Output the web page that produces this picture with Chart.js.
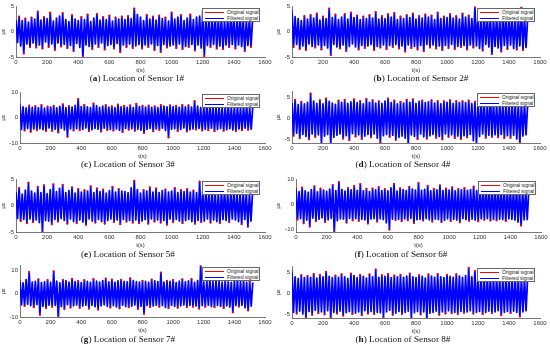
<!DOCTYPE html>
<html>
<head>
<meta charset="utf-8">
<script src="https://cdn.jsdelivr.net/npm/chart.js@4.4.1/dist/chart.umd.min.js"></script>
<style>
  body { margin: 0; background: #fff; width: 550px; height: 352px; position: relative; overflow: hidden; }
  canvas { position: absolute; }
  .cap { position: absolute; font-family: "Liberation Serif", serif; font-size: 9.2px; line-height: 10px; color: #111; white-space: nowrap; transform: translateX(-50%); }
  .leg { position: absolute; width: 58px; height: 14px; box-sizing: border-box; border: 1px solid #666; background: #fff;
         font-family: "Liberation Sans", Arial, sans-serif; font-size: 5px; line-height: 6px; color: #222; }
  .leg div { position: absolute; left: 24px; white-space: nowrap; }
  .leg span { position: absolute; left: 2px; width: 19px; height: 0; border-top: 1.5px solid; }
</style>
</head>
<body>
<script>
// sample times (s)
const timeS = [
  0,10,20,30,40,50,60,70,80,90,
  100,110,120,130,140,150,160,170,180,190,
  200,210,220,230,240,250,260,270,280,290,
  300,310,320,330,340,350,360,370,380,390,
  400,410,420,430,440,450,460,470,480,490,
  500,510,520,530,540,550,560,570,580,590,
  600,610,620,630,640,650,660,670,680,690,
  700,710,720,730,740,750,760,770,780,790,
  800,810,820,830,840,850,860,870,880,890,
  900,910,920,930,940,950,960,970,980,990,
  1000,1010,1020,1030,1040,1050,1060,1070,1080,1090,
  1100,1110,1120,1130,1140,1150,1160,1170,1180,1190,
  1200,1210,1220,1230,1240,1250,1260,1270,1280,1290,
  1300,1310,1320,1330,1340,1350,1360,1370,1380,1390,
  1400,1410,1420,1430,1440,1450,1460,1470,1480,1490,
  1500,1510,1520
];

// strain (µε); original and filtered coincide except at the peak tips
const sensor1 = [
  2.4,-2.1,3.0,-2.8,2.2,-4.3,2.6,-2.4,1.9,-3.0,
  2.8,-2.2,2.5,-3.1,4.0,-2.6,2.3,-3.3,2.9,-2.0,
  2.6,-3.0,3.8,-2.4,2.1,-3.6,2.7,-2.2,3.1,-2.9,
  3.7,-2.5,2.4,-3.2,2.0,-2.7,3.3,-3.8,2.5,-2.3,
  2.2,-3.1,2.9,-5.0,2.4,-2.6,3.4,-2.9,2.0,-3.4,
  2.7,-2.4,3.5,-3.0,2.3,-2.2,2.9,-3.5,2.4,-2.7,
  3.2,-2.5,2.1,-3.3,2.8,-2.3,2.5,-4.0,3.0,-2.6,
  2.4,-3.0,3.1,-2.4,2.6,-3.2,4.6,-2.8,3.4,-2.5,
  2.9,-3.3,2.2,-2.6,3.3,-3.0,2.5,-2.4,3.0,-3.6,
  2.3,-2.7,3.2,-4.0,2.6,-2.5,2.8,-3.1,2.1,-2.8,
  3.8,-2.6,2.5,-3.2,2.9,-2.4,3.3,-3.4,2.2,-2.9,
  2.7,-3.0,3.4,-2.5,2.4,-3.7,2.9,-2.6,3.1,-3.2,
  4.0,-4.8,2.6,-2.7,3.0,-3.0,2.3,-2.5,3.2,-3.3,
  2.5,-2.8,3.1,-3.4,2.2,-2.6,2.8,-3.0,3.6,-2.5,
  2.9,-3.3,2.4,-2.6,3.2,-2.9,2.6,-3.8,2.3,-2.7,
  2.8,-3.0,2.5
];
const sensor2 = [
  4.2,-3.0,3.0,-2.5,2.6,-3.4,2.2,-2.8,3.1,-3.6,
  2.5,-2.4,3.3,-2.9,2.7,-3.1,3.6,-2.6,2.3,-3.5,
  3.0,-2.7,2.6,-3.2,4.6,-4.6,2.8,-2.5,3.4,-3.0,
  2.4,-3.3,2.9,-2.6,3.5,-3.8,2.5,-2.9,3.8,-2.4,
  2.8,-3.0,3.2,-3.5,2.4,-2.7,3.0,-3.2,2.6,-2.8,
  3.3,-2.5,2.7,-3.6,3.9,-2.9,2.5,-3.1,3.1,-2.6,
  2.6,-3.4,3.5,-2.7,2.9,-3.0,3.7,-2.5,2.4,-3.3,
  3.0,-2.8,2.6,-3.9,3.3,-2.6,2.8,-3.2,3.6,-2.9,
  2.5,-3.5,3.1,-2.7,2.7,-3.8,3.4,-2.5,2.9,-3.1,
  3.2,-2.6,2.4,-3.3,3.8,-2.8,2.6,-3.6,3.0,-2.7,
  2.8,-3.2,3.5,-2.5,2.7,-3.4,3.1,-2.9,2.5,-3.0,
  3.6,-2.7,2.9,-3.5,3.2,-2.6,2.6,-3.1,4.9,-2.8,
  3.0,-3.3,2.7,-3.7,3.4,-2.5,2.8,-3.0,3.3,-4.4,
  2.6,-2.9,3.1,-3.2,2.5,-3.9,3.6,-2.7,2.9,-3.4,
  3.2,-2.6,2.7,-3.3,3.0,-3.5,2.5,-2.8,4.8,-3.6,
  2.9,-3.1,2.6
];
const sensor3 = [
  5.2,-4.6,4.3,-5.0,3.9,-4.2,4.8,-5.5,4.1,-4.4,
  4.6,-4.9,4.0,-4.3,5.0,-4.7,3.8,-5.2,4.4,-4.0,
  4.2,-5.1,4.7,-4.5,3.9,-5.8,4.5,-4.1,5.3,-4.8,
  4.0,-7.5,4.6,-4.4,4.2,-5.0,4.9,-4.3,7.4,-4.9,
  4.4,-4.6,5.1,-4.0,4.3,-5.3,4.0,-4.7,5.6,-4.2,
  4.8,-4.5,4.1,-5.4,4.6,-4.1,5.0,-4.8,4.2,-4.6,
  4.5,-5.0,4.0,-4.4,5.2,-4.9,4.3,-5.6,4.7,-4.2,
  4.1,-4.7,4.9,-4.3,4.0,-5.1,5.5,-4.5,4.4,-4.9,
  4.7,-6.0,4.2,-4.6,4.8,-4.2,4.1,-5.3,4.5,-4.4,
  4.0,-4.8,5.0,-4.1,4.6,-5.0,4.3,-7.8,4.9,-4.5,
  4.4,-4.3,4.7,-5.2,4.1,-4.6,5.1,-4.0,4.3,-5.4,
  4.9,-4.7,4.2,-4.4,6.6,-4.6,4.6,-4.2,4.0,-5.0,
  4.3,-4.5,5.6,-4.9,4.4,-4.1,4.8,-5.3,4.2,-4.6,
  4.7,-4.2,4.0,-5.1,4.5,-4.7,5.0,-4.3,4.1,-4.8,
  4.5,-5.2,4.8,-4.4,4.2,-4.9,4.6,-4.1,5.2,-4.7,
  4.0,-4.5,4.3
];
const sensor4 = [
  3.8,-4.2,4.5,-3.6,3.3,-4.8,4.0,-3.9,3.5,-4.4,
  3.9,-5.1,6.0,-3.8,4.2,-4.5,3.6,-4.0,4.4,-6.1,
  3.5,-4.3,4.8,-3.9,4.1,-6.2,3.7,-4.6,3.4,-4.1,
  4.3,-3.8,3.9,-4.9,4.5,-4.2,3.6,-5.3,4.0,-3.7,
  4.6,-4.4,3.8,-4.0,4.2,-5.0,3.5,-4.3,4.7,-3.9,
  3.9,-4.6,4.4,-3.8,3.7,-4.8,4.1,-5.9,3.6,-4.2,
  4.2,-3.9,4.8,-4.5,3.8,-4.1,4.3,-5.2,3.5,-4.6,
  4.0,-4.3,3.7,-4.8,4.5,-6.3,3.9,-4.0,4.6,-4.4,
  3.6,-5.0,4.1,-3.8,4.3,-4.5,3.8,-4.9,4.0,-4.2,
  4.4,-3.9,3.7,-4.7,4.2,-4.4,3.5,-5.1,4.1,-3.8,
  3.9,-4.5,4.4,-4.0,3.6,-4.8,4.2,-4.3,3.8,-5.0,
  4.1,-4.2,3.8,-4.6,4.3,-3.9,3.6,-5.4,4.0,-6.2,
  3.7,-4.4,4.2,-3.8,3.9,-4.7,3.5,-4.1,5.5,-4.5,
  3.8,-4.0,3.4,-4.6,4.0,-3.9,3.6,-4.8,3.9,-4.2,
  3.5,-4.7,3.9,-4.1,3.7,-5.0,3.4,-6.0,3.8,-4.3,
  3.6,-4.0,3.3
];
const sensor5 = [
  2.6,-2.4,3.4,-2.9,2.2,-2.6,3.0,-3.3,4.4,-2.5,
  2.8,-3.1,2.4,-2.7,3.6,-3.2,2.5,-5.0,3.9,-2.8,
  2.3,-2.9,3.1,-3.5,4.1,-2.6,2.7,-3.0,3.3,-2.4,
  4.0,-2.8,2.5,-3.4,2.9,-2.5,3.5,-3.0,2.4,-3.3,
  3.2,-2.7,2.6,-3.1,3.0,-3.6,2.8,-2.5,3.7,-2.9,
  2.5,-3.2,3.3,-2.6,2.7,-3.0,3.1,-3.4,2.4,-2.8,
  2.9,-2.5,3.6,-3.1,2.6,-2.7,3.2,-3.5,2.8,-2.6,
  2.7,-3.0,2.5,-2.8,3.4,-3.2,4.8,-2.7,3.1,-3.3,
  2.4,-2.9,3.0,-2.6,2.8,-3.4,3.5,-2.5,2.6,-3.0,
  3.3,-2.7,2.5,-3.2,2.9,-2.8,3.1,-3.6,2.6,-2.5,
  2.8,-3.1,3.4,-2.6,2.5,-2.9,3.0,-3.3,2.7,-2.8,
  3.2,-2.6,2.6,-3.0,2.9,-3.4,2.5,-2.8,4.6,-3.1,
  2.7,-2.9,3.1,-2.5,2.6,-3.2,2.9,-2.7,2.4,-3.0,
  2.5,-3.3,2.8,-2.6,3.0,-2.8,2.6,-3.1,2.7,-2.5,
  2.9,-2.7,2.4,-3.0,2.6,-3.5,2.8,-2.6,2.5,-4.0,
  2.4,-2.9,2.6
];
const sensor6 = [
  6.5,-6.0,5.2,-5.6,6.8,-7.5,5.5,-6.2,4.9,-8.8,
  6.0,-5.4,7.3,-6.6,5.1,-5.9,6.4,-5.3,5.8,-7.0,
  5.3,-6.1,6.2,-5.5,7.8,-11.0,5.6,-6.4,9.0,-5.7,
  6.1,-5.8,5.4,-7.2,6.6,-5.5,5.9,-6.3,7.4,-5.6,
  5.7,-6.5,8.2,-5.9,5.5,-6.1,6.3,-7.6,5.2,-5.8,
  6.4,-5.6,5.9,-6.8,7.0,-5.7,5.6,-6.0,6.2,-7.3,
  5.5,-10.0,6.7,-5.8,8.3,-6.2,5.4,-5.9,6.5,-6.6,
  6.0,-5.7,5.6,-6.3,7.1,-5.5,6.2,-7.4,5.8,-6.0,
  8.6,-5.9,5.7,-6.4,6.1,-5.6,7.5,-6.1,5.5,-6.8,
  6.3,-5.8,5.9,-6.0,7.7,-7.0,5.6,-6.3,6.4,-5.7,
  5.8,-6.6,6.9,-5.9,5.5,-6.2,6.2,-7.1,5.9,-5.6,
  6.6,-6.0,5.7,-6.5,6.0,-5.8,7.2,-6.2,5.6,-6.7,
  6.1,-5.7,5.8,-6.1,6.5,-5.6,5.9,-6.4,6.3,-5.9,
  5.7,-6.3,6.4,-5.8,5.6,-6.0,6.1,-6.6,5.8,-5.7,
  6.0,-5.9,5.5,-6.2,6.2,-7.0,5.7,-8.4,5.9,-6.1,
  5.6,-6.0,5.8
];
const sensor7 = [
  5.5,-4.8,4.6,-5.3,6.0,-4.5,9.2,-5.1,4.9,-5.8,
  5.2,-4.6,6.1,-9.0,4.7,-5.4,5.0,-6.2,5.8,-4.9,
  4.8,-5.6,9.5,-5.0,5.3,-10.2,4.6,-5.5,5.9,-6.6,
  5.6,-4.7,4.9,-5.9,6.3,-5.2,5.1,-4.8,5.4,-6.0,
  4.7,-5.3,5.8,-4.9,5.2,-6.4,4.8,-5.0,6.2,-5.6,
  5.3,-6.8,4.9,-5.2,5.6,-4.7,6.4,-5.4,5.0,-5.9,
  6.0,-5.1,4.8,-5.7,5.4,-6.3,5.9,-4.9,5.2,-5.5,
  5.0,-5.8,6.5,-5.3,5.6,-4.8,5.1,-6.6,4.9,-5.4,
  5.5,-8.6,5.2,-5.0,4.8,-5.7,6.0,-5.3,5.4,-4.9,
  5.1,-5.6,9.0,-5.1,4.9,-5.9,5.5,-6.2,5.2,-5.0,
  5.8,-5.4,4.7,-6.0,5.3,-5.2,6.1,-4.8,5.0,-5.7,
  5.4,-5.0,6.2,-5.6,4.8,-5.3,5.6,-6.4,12.0,-5.1,
  5.0,-5.6,5.4,-4.9,6.3,-5.5,5.1,-5.8,5.7,-5.0,
  5.3,-5.4,4.9,-6.1,5.6,-5.2,5.0,-5.7,4.8,-8.0,
  5.5,-5.1,6.0,-5.5,5.2,-4.9,5.7,-6.0,4.9,-7.2,
  5.2,-5.3,4.8
];
const sensor8 = [
  5.3,-4.6,4.0,-4.9,3.6,-4.3,4.4,-5.0,3.8,-6.0,
  4.2,-4.4,3.9,-5.2,4.7,-4.1,3.7,-4.8,4.5,-4.5,
  4.0,-5.1,5.2,-4.2,4.1,-6.0,3.8,-4.6,4.3,-4.9,
  3.9,-4.3,4.6,-5.4,4.0,-4.7,3.6,-4.4,4.8,-5.0,
  4.3,-4.8,3.8,-4.5,4.5,-5.3,4.1,-4.2,3.7,-4.9,
  4.6,-4.4,4.0,-5.0,5.8,-4.6,3.9,-4.7,4.4,-6.0,
  4.1,-4.5,4.7,-4.1,3.8,-5.2,4.3,-4.8,4.0,-4.4,
  4.5,-5.0,3.9,-4.6,4.2,-4.3,4.8,-6.1,4.0,-4.7,
  3.8,-4.4,4.4,-5.1,4.1,-4.5,3.7,-6.2,4.6,-4.8,
  4.2,-4.6,3.9,-4.3,4.7,-5.2,4.0,-4.5,3.8,-4.9,
  4.5,-4.2,4.1,-4.8,3.9,-4.6,4.6,-5.0,4.2,-4.4,
  3.9,-4.7,4.3,-4.5,6.2,-4.2,4.0,-4.9,5.4,-4.6,
  4.1,-4.4,3.8,-5.0,4.2,-4.6,3.9,-4.3,4.4,-4.8,
  3.7,-4.5,4.0,-4.2,3.8,-5.3,3.6,-4.6,4.1,-4.4,
  3.9,-4.8,3.6,-4.3,4.0,-4.6,3.8,-5.6,3.7,-4.5,
  3.6,-4.2,3.8
];

const xTicks = [0, 200, 400, 600, 800, 1000, 1200, 1400, 1600];
const seriesNames = ['Original signal', 'Filtered signal'];
const captionLetters = ['a', 'b', 'c', 'd', 'e', 'f', 'g', 'h'];
const yLimits = [[-5, 5], [-5, 5], [-10, 10], [-6, 6.5], [-5, 5], [-11, 10], [-10, 12], [-6, 6.5]];
const yTickSets = [[-5, 0, 5], [-5, 0, 5], [-10, 0, 10], [-5, 0, 5], [-5, 0, 5], [-10, 0, 10], [-10, 0, 10], [-5, 0, 5]];
const sensors = [sensor1, sensor2, sensor3, sensor4, sensor5, sensor6, sensor7, sensor8];

// panel frames: column x, axis left/right, plot top/bottom, caption centre
const frames = [
  { col: 0,   L: 16,  R: 265, T: 5,   B: 57,  cx: 137, cy: 78 },
  { col: 275, L: 292, R: 540, T: 5,   B: 57,  cx: 421, cy: 78 },
  { col: 0,   L: 20,  R: 265, T: 91,  B: 143, cx: 128, cy: 164 },
  { col: 275, L: 292, R: 540, T: 90,  B: 143, cx: 403, cy: 164 },
  { col: 0,   L: 16,  R: 265, T: 178, B: 232, cx: 128, cy: 254 },
  { col: 275, L: 296, R: 541, T: 178, B: 232, cx: 401, cy: 254 },
  { col: 0,   L: 20,  R: 265, T: 264, B: 317, cx: 128, cy: 339 },
  { col: 275, L: 292, R: 540, T: 265, B: 318, cx: 403, cy: 339 }
];

const tickFont = { family: '"Liberation Sans", Arial, sans-serif', size: 6 };

// red tip only where a peak stands out from its same-sign neighbours
function tipRadius(vals) {
  return ctx => {
    const k = ctx.dataIndex, v = vals[k];
    const a = vals[k - 2], b = vals[k + 2];
    const out = (a === undefined || Math.abs(v) >= Math.abs(a)) && (b === undefined || Math.abs(v) >= Math.abs(b));
    return out ? 1.1 : 0;
  };
}

frames.forEach((f, i) => {
  const cv = document.createElement('canvas');
  const padTop = 4, xAxisH = 18;
  cv.width = 275;
  cv.height = f.B - f.T + padTop + xAxisH;
  cv.style.left = f.col + 'px';
  cv.style.top = (f.T - padTop) + 'px';
  document.body.appendChild(cv);

  const pts = timeS.map((t, k) => ({ x: t, y: sensors[i][k] }));

  new Chart(cv, {
    type: 'line',
    data: {
      datasets: [
        { label: seriesNames[0], data: pts, showLine: false, borderWidth: 0,
          pointRadius: tipRadius(sensors[i]), pointBackgroundColor: '#ff0000', pointBorderWidth: 0 },
        { label: seriesNames[1], data: pts, borderColor: '#0000ff', backgroundColor: '#0000ff',
          borderWidth: 1.8, fill: 'origin', pointRadius: 0, borderJoinStyle: 'round' }
      ]
    },
    options: {
      responsive: false,
      animation: false,
      events: [],
      layout: { padding: { top: padTop, right: f.col + 275 - f.R, left: 0, bottom: 0 } },
      plugins: { legend: { display: false }, tooltip: { enabled: false } },
      scales: {
        x: {
          type: 'linear', min: 0, max: 1600,
          afterBuildTicks: s => { s.ticks = xTicks.map(v => ({ value: v })); },
          afterFit: s => { s.height = xAxisH; },
          grid: { display: false, drawTicks: false },
          border: { display: true, color: '#555', width: 0.8 },
          ticks: { font: tickFont, color: '#333', padding: 2, maxRotation: 0, autoSkip: false, callback: v => String(v) },
          title: { display: true, text: 't(s)', font: tickFont, color: '#333', padding: { top: 0, bottom: 1 } }
        },
        y: {
          min: yLimits[i][0], max: yLimits[i][1],
          afterBuildTicks: s => { s.ticks = yTickSets[i].map(v => ({ value: v })); },
          afterFit: s => { s.width = f.L - f.col; },
          grid: { display: false, drawTicks: false },
          border: { display: true, color: '#555', width: 0.8 },
          ticks: { font: tickFont, color: '#333', padding: 2, callback: v => String(v) },
          title: { display: true, text: 'µε', font: tickFont, color: '#333', padding: { top: 0, bottom: 0 } }
        }
      }
    }
  });

  // legend box in the top right corner of the plot
  const leg = document.createElement('div');
  leg.className = 'leg';
  leg.style.left = (f.R - 5 - 58) + 'px';
  leg.style.top = (f.T + 3) + 'px';
  leg.innerHTML =
    '<span style="top:3px;border-color:#ff0000"></span><div style="top:0px">' + seriesNames[0] + '</div>' +
    '<span style="top:9px;border-color:#0000ff"></span><div style="top:6px">' + seriesNames[1] + '</div>';
  document.body.appendChild(leg);

  const cap = document.createElement('div');
  cap.className = 'cap';
  cap.style.left = f.cx + 'px';
  cap.style.top = (f.cy - 5) + 'px';
  cap.innerHTML = '(<b>' + captionLetters[i] + '</b>) Location of Sensor ' + (i + 1) + '#';
  document.body.appendChild(cap);
});
</script>
</body>
</html>
